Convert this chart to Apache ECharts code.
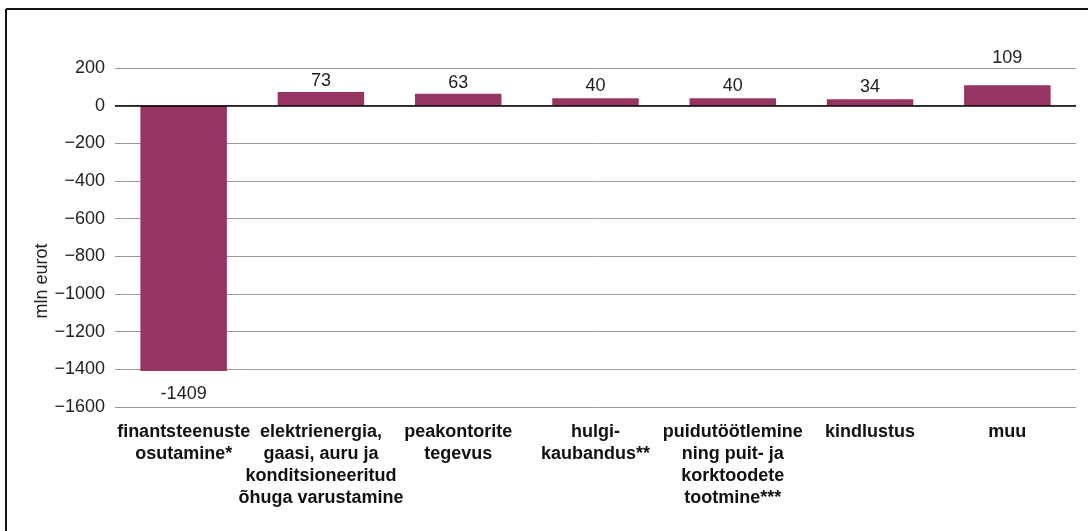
<!DOCTYPE html>
<html>
<head>
<meta charset="utf-8">
<script src="https://cdn.jsdelivr.net/npm/echarts@6/dist/echarts.min.js"></script>
<style>
    html, body { margin: 0; padding: 0; background: #fff; }
    #chart { width: 1088px; height: 531px; }
</style>
</head>
<body>
<div id="chart"></div>
<script>
// kategooriad (x-telg)
const categories = [
    'finantsteenuste\nosutamine*',
    'elektrienergia,\ngaasi, auru ja\nkonditsioneeritud\nõhuga varustamine',
    'peakontorite\ntegevus',
    'hulgi-\nkaubandus**',
    'puidutöötlemine\nning puit- ja\nkorktoodete\ntootmine***',
    'kindlustus',
    'muu'
]
// väärtused, mln eurot
const values = [-1409, 73, 63, 40, 40, 34, 109]
// y-telje jaotus
const yMin = -1600
const yMax = 200
const yStep = 200

const fontFamily = '"Liberation Sans", Arial, Helvetica, sans-serif'
// siltide kaugus tulbast (nagu originaalis)
const labelGap = [14, 2, 2, 3, 3, 3, 18]

const chart = echarts.init(document.getElementById('chart'))

const seriesData = values.map((v, i) => ({
    value: v,
    label: { position: v < 0 ? 'bottom' : 'top', distance: labelGap[i] }
}))

chart.setOption({
    animation: false,
    textStyle: { fontFamily: fontFamily },
    grid: { left: 115, right: 12, top: 68, bottom: 124, containLabel: false },
    graphic: [
        // raam: ainult üla- ja vasak joon
        { type: 'line', shape: { x1: 6, y1: 9, x2: 1088, y2: 9 }, style: { stroke: '#111', lineWidth: 2 } },
        { type: 'line', shape: { x1: 6, y1: 9, x2: 6, y2: 531 }, style: { stroke: '#111', lineWidth: 2 } },
        {
            type: 'text', x: 33, y: 281, rotation: Math.PI / 2,
            style: { text: 'mln eurot', fill: '#222', font: '18px ' + fontFamily, align: 'center', verticalAlign: 'top' }
        }
    ],
    xAxis: {
        type: 'category',
        data: categories,
        axisLine: { show: false, onZero: false },
        axisTick: { show: false },
        axisLabel: {
            interval: 0,
            margin: 14,
            color: '#111',
            fontSize: 18,
            fontWeight: 'bold',
            lineHeight: 22,
            align: 'center'
        }
    },
    yAxis: {
        type: 'value',
        min: yMin,
        max: yMax,
        interval: yStep,
        axisLine: { show: false },
        axisTick: { show: false },
        axisLabel: {
            color: '#222',
            fontSize: 18,
            margin: 10,
            formatter: v => (v < 0 ? '\u2212' + Math.abs(v) : String(v))
        },
        splitLine: { lineStyle: { color: '#9a9a9a', width: 1 } }
    },
    series: [{
        type: 'bar',
        data: seriesData,
        barWidth: '63%',
        itemStyle: { color: '#963463' },
        label: {
            show: true,
            color: '#222',
            fontSize: 18
        },
        markLine: {
            silent: true,
            symbol: 'none',
            label: { show: false },
            lineStyle: { color: '#000', width: 1.5, type: 'solid' },
            data: [{ yAxis: 0 }]
        }
    }]
})
</script>
</body>
</html>
